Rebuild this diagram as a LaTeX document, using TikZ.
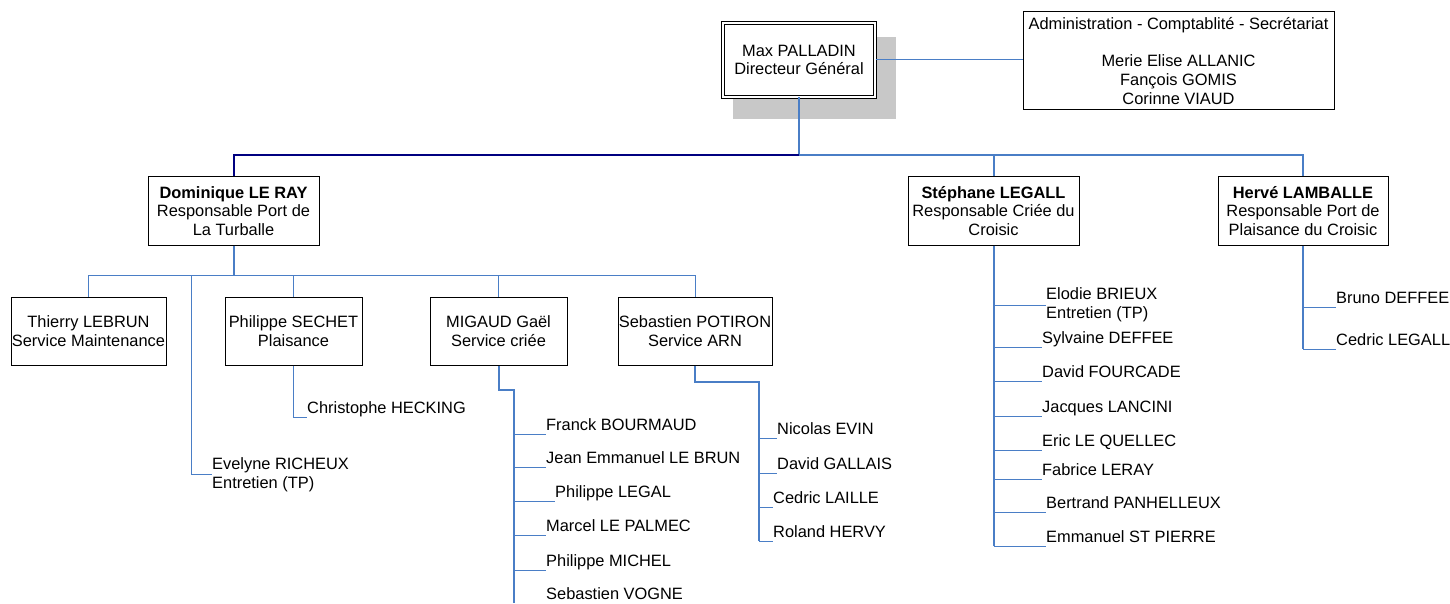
\documentclass[tikz,border=0pt]{standalone}
\usepackage{fontspec}
\setmainfont{Liberation Sans}
\definecolor{linkblue}{RGB}{74,126,198}
\definecolor{navyline}{RGB}{0,0,128}
\definecolor{shadowgrey}{RGB}{200,200,200}
\tikzset{
  orgbox/.style={draw, line width=1pt, align=center, inner sep=0pt, fill=white},
  namelbl/.style={anchor=west, inner sep=0pt, text height=12pt, text depth=4pt},
  namelbltwo/.style={anchor=west, align=left, inner sep=0pt},
  link/.style={draw=linkblue, line width=1pt},
  spine/.style={draw=linkblue, line width=2pt},
}

\begin{document}
\begin{tikzpicture}[x=1pt, y=-1pt, font=\fontsize{16.4}{18.6}\selectfont]
\useasboundingbox (0,0) rectangle (1450,604);

% direction
\fill[shadowgrey] (733,37) rectangle (896,119);
\node[orgbox, double, double distance=2pt, minimum width=152pt, minimum height=74pt] (max) at (799,60)
  {Max PALLADIN\\Directeur Général};
\node[orgbox, minimum width=311pt, minimum height=98pt] (adm) at (1178.5,61)
  {Administration - Comptablité - Secrétariat\\\mbox{}\\Merie Elise ALLANIC\\Fançois GOMIS\\Corinne VIAUD};

% responsables
\node[orgbox, minimum width=171pt, minimum height=68pt] (dom) at (233.5,211)
  {\textbf{Dominique LE RAY}\\Responsable Port de\\La Turballe};
\node[orgbox, minimum width=171pt, minimum height=68pt] (ste) at (993.5,211)
  {\textbf{Stéphane LEGALL}\\Responsable Criée du\\Croisic};
\node[orgbox, minimum width=170pt, minimum height=68pt] (her) at (1303,211)
  {\textbf{Hervé LAMBALLE}\\Responsable Port de\\Plaisance du Croisic};

% services
\node[orgbox, minimum width=155pt, minimum height=68pt] (thi) at (88.5,331)
  {Thierry LEBRUN\\Service Maintenance};
\node[orgbox, minimum width=137pt, minimum height=68pt] (sec) at (293.5,331)
  {Philippe SECHET\\Plaisance};
\node[orgbox, minimum width=137pt, minimum height=68pt] (mig) at (498.5,331)
  {MIGAUD Gaël\\Service criée};
\node[orgbox, minimum width=154pt, minimum height=68pt] (pot) at (695,331)
  {Sebastien POTIRON\\Service ARN};

% personnel
\node[namelbl] (chr) at (307,409) {Christophe HECKING};
\node[namelbltwo] (eve) at (212,474.5) {Evelyne RICHEUX\\Entretien (TP)};

\node[namelbl] (fra) at (546,426) {Franck BOURMAUD};
\node[namelbl] (jea) at (546,459) {Jean Emmanuel LE BRUN};
\node[namelbl] (phl) at (555,493) {Philippe LEGAL};
\node[namelbl] (mar) at (546,527) {Marcel LE PALMEC};
\node[namelbl] (phm) at (546,562) {Philippe MICHEL};
\node[namelbl] (seb) at (546,595) {Sebastien VOGNE};

\node[namelbl] (nic) at (777,430) {Nicolas EVIN};
\node[namelbl] (dav) at (777,465) {David GALLAIS};
\node[namelbl] (ced) at (773,499) {Cedric LAILLE};
\node[namelbl] (rol) at (773,533) {Roland HERVY};

\node[namelbltwo] (elo) at (1046,305) {Elodie BRIEUX\\Entretien (TP)};
\node[namelbl] (syl) at (1042,339) {Sylvaine DEFFEE};
\node[namelbl] (dfo) at (1042,373) {David FOURCADE};
\node[namelbl] (jac) at (1042,408) {Jacques LANCINI};
\node[namelbl] (eri) at (1042,442) {Eric LE QUELLEC};
\node[namelbl] (fab) at (1042,471) {Fabrice LERAY};
\node[namelbl] (ber) at (1046,504) {Bertrand PANHELLEUX};
\node[namelbl] (emm) at (1046,538) {Emmanuel ST PIERRE};

\node[namelbl] (bru) at (1336,299) {Bruno DEFFEE};
\node[namelbl] (cel) at (1336,341) {Cedric LEGALL};

% liaisons
\coordinate (bar) at (0,155);
\coordinate (bartwo) at (0,275);
\coordinate (evx) at (191,275);
\coordinate (migk) at (514,390);
\coordinate (potk) at (759,382);

\draw[link] (max.east) -- (max.east -| adm.west);
\draw[spine] (max.south) -- (max.south |- bar) -| (her.north);
\draw[spine, draw=navyline] (max.south |- bar) -| (dom.north);
\draw[spine] (ste.north |- bar) -- (ste.north);

\draw[spine] (dom.south) -- (dom.south |- bartwo);
\draw[link] (thi.north) |- (bartwo -| pot.north) -- (pot.north);
\draw[link] (sec.north |- bartwo) -- (sec.north);
\draw[link] (mig.north |- bartwo) -- (mig.north);
\draw[link] (evx) |- (eve.west);
\draw[link] (sec.south) |- (chr.south west);

\draw[spine] (mig.south) |- (migk) -- (migk |- seb.south west);
\foreach \n in {fra,jea,phl,mar,phm}
  \draw[link] (migk |- \n.south west) -- (\n.south west);

\draw[spine] (pot.south) |- (potk) -- (potk |- rol.south west);
\foreach \n in {nic,dav,ced,rol}
  \draw[link] (potk |- \n.south west) -- (\n.south west);

\draw[spine] (ste.south) -- (ste.south |- emm.south west);
\draw[link] (ste.south |- elo.west) -- (elo.west);
\foreach \n in {syl,dfo,jac,eri,fab,ber,emm}
  \draw[link] (ste.south |- \n.south west) -- (\n.south west);

\draw[spine] (her.south) -- (her.south |- cel.south west);
\foreach \n in {bru,cel}
  \draw[link] (her.south |- \n.south west) -- (\n.south west);
\end{tikzpicture}
\end{document}
